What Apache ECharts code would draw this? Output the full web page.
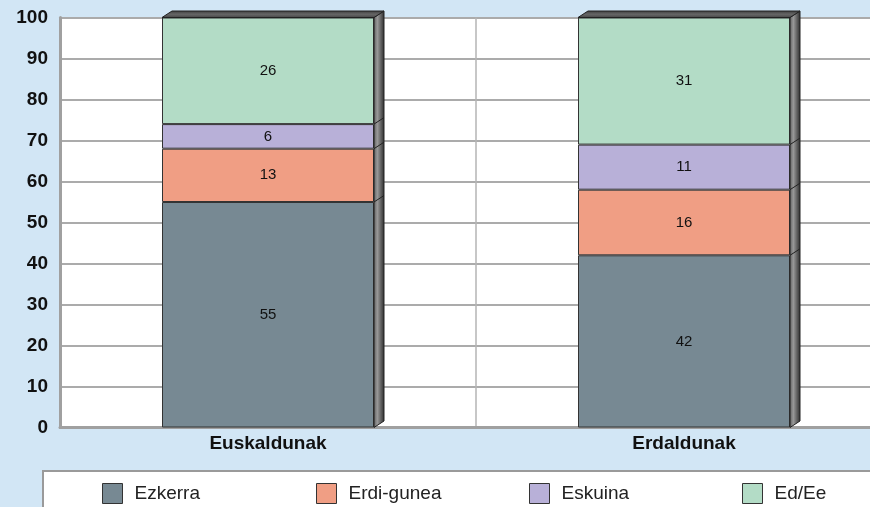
<!DOCTYPE html>
<html>
<head>
<meta charset="utf-8">
<script src="https://cdn.jsdelivr.net/npm/echarts@6/dist/echarts.min.js"></script>
<style>
html,body{margin:0;padding:0;background:#d2e6f5;}
#chart{width:870px;height:507px;}
</style>
</head>
<body>
<div id="chart"></div>
<script>
var categories = ['Euskaldunak', 'Erdaldunak'];
var seriesNames = ['Ezkerra', 'Erdi-gunea', 'Eskuina', 'Ed/Ee'];
var ezkerra = [55, 42];
var erdiGunea = [13, 16];
var eskuina = [6, 11];
var edEe = [26, 31];
var yTicks = [0, 10, 20, 30, 40, 50, 60, 70, 80, 90, 100];

var values = [ezkerra, erdiGunea, eskuina, edEe];
var colors = ['#778993', '#f09e84', '#b8b0d8', '#b3dcc6'];
var FONT = '"Liberation Sans", Arial, sans-serif';
var BAR_W = 212, DX = 10, DY = -6.5;

var totals = categories.map(function (c, i) {
  return values.reduce(function (s, arr) { return s + arr[i]; }, 0);
});

var barSeries = seriesNames.map(function (name, k) {
  return {
    name: name,
    type: 'bar',
    stack: 'total',
    barWidth: BAR_W,
    data: values[k],
    itemStyle: { color: colors[k], borderColor: '#333', borderWidth: 1 },
    label: { show: true, position: 'inside', color: '#111', fontSize: 15, fontFamily: FONT },
    z: 3
  };
});

var depthSeries = {
  type: 'custom',
  silent: true,
  z: 4,
  clip: false,
  data: categories.map(function (c, i) { return [i, totals[i]]; }),
  encode: { x: 0, y: 1 },
  renderItem: function (params, api) {
    var idx = api.value(0);
    var top = api.coord([idx, api.value(1)]);
    var bot = api.coord([idx, 0]);
    var xl = top[0] - BAR_W / 2, xr = top[0] + BAR_W / 2;
    var yt = top[1], yb = bot[1];
    var children = [];
    children.push({
      type: 'polygon',
      shape: { points: [[xr, yt], [xr + DX, yt + DY], [xr + DX, yb + DY], [xr, yb]] },
      style: {
        fill: new echarts.graphic.LinearGradient(0, 0, 1, 0, [
          { offset: 0, color: '#5a5a5a' },
          { offset: 0.35, color: '#999' },
          { offset: 0.75, color: '#555' },
          { offset: 1, color: '#2a2a2a' }
        ]),
        stroke: '#222', lineWidth: 1
      }
    });
    children.push({
      type: 'polygon',
      shape: { points: [[xl, yt], [xl + DX, yt + DY], [xr + DX, yt + DY], [xr, yt]] },
      style: {
        fill: new echarts.graphic.LinearGradient(0, 0, 0, 1, [
          { offset: 0, color: '#3a3a3a' },
          { offset: 0.5, color: '#666' },
          { offset: 1, color: '#444' }
        ]),
        stroke: '#222', lineWidth: 1
      }
    });
    var cum = 0;
    for (var k = 0; k < values.length - 1; k++) {
      cum += values[k][idx];
      var p = api.coord([idx, cum]);
      children.push({
        type: 'line',
        shape: { x1: xr, y1: p[1], x2: xr + DX, y2: p[1] + DY },
        style: { stroke: '#222', lineWidth: 1 }
      });
    }
    return { type: 'group', children: children };
  }
};

var legendLefts = [102, 316, 529, 742];
var legends = seriesNames.map(function (name, k) {
  return {
    data: [name],
    left: legendLefts[k],
    top: 483,
    padding: 0,
    orient: 'horizontal',
    icon: 'rect',
    itemWidth: 20,
    itemHeight: 20,
    selectedMode: false,
    itemStyle: { borderColor: '#333', borderWidth: 1 },
    textStyle: { fontSize: 19, color: '#222', fontFamily: FONT, padding: [0, 0, 0, 7] }
  };
});

var chart = echarts.init(document.getElementById('chart'));
chart.setOption({
  backgroundColor: '#d2e6f5',
  animation: false,
  textStyle: { fontFamily: FONT },
  grid: {
    left: 60, top: 17.5, width: 832, height: 410,
    outerBoundsMode: 'none',
    containLabel: false,
    show: true, backgroundColor: '#ffffff', borderWidth: 0
  },
  graphic: [{
    type: 'rect',
    z: -1,
    shape: { x: 43, y: 471, width: 880, height: 80 },
    style: { fill: '#ffffff', stroke: '#9a9a9a', lineWidth: 2 }
  }],
  legend: legends,
  xAxis: {
    type: 'category',
    data: categories,
    axisTick: { show: false },
    axisLine: { show: true, lineStyle: { color: '#a0a0a0', width: 3 } },
    axisLabel: { fontSize: 19, fontWeight: 'bold', color: '#111', margin: 7, fontFamily: FONT },
    splitLine: { show: true, lineStyle: { color: '#b5b5b5', width: 1.5 } }
  },
  yAxis: {
    type: 'value',
    min: yTicks[0],
    max: yTicks[yTicks.length - 1],
    interval: yTicks[1] - yTicks[0],
    axisTick: { show: false },
    axisLine: { show: true, lineStyle: { color: '#a0a0a0', width: 3 } },
    axisLabel: { fontSize: 19, fontWeight: 'bold', color: '#111', margin: 12, fontFamily: FONT },
    splitLine: { show: true, lineStyle: { color: '#ababab', width: 2 } }
  },
  series: barSeries.concat([depthSeries])
});
</script>
</body>
</html>
